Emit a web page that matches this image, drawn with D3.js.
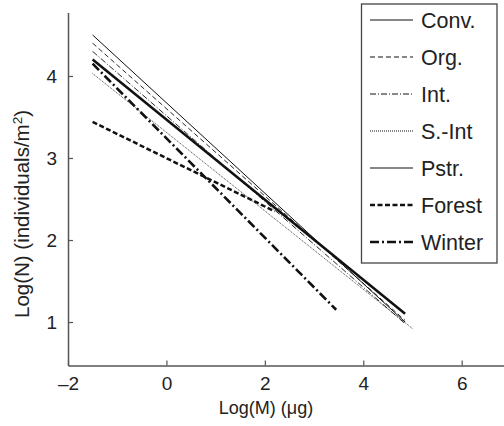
<!DOCTYPE html>
<html><head><meta charset="utf-8">
<script src="https://cdn.jsdelivr.net/npm/d3@7"></script>
<style>body{margin:0;background:#fff}svg{display:block}text{font-family:"Liberation Sans",Arial,sans-serif;fill:#222}</style>
</head><body>
<svg id="c" width="504" height="426"></svg>
<script>
const seriesNames = ["Conv.","Org.","Int.","S.-Int","Pstr.","Forest","Winter"];
const xStart = [-1.5,-1.5,-1.5,-1.5,-1.5,-1.5,-1.5];
const yStart = [4.50,4.40,4.30,4.03,4.20,3.44,4.15];
const xEnd   = [4.85,4.85,4.85,5.0,4.85,2.2,3.45];
const yEnd   = [1.00,1.02,0.98,0.92,1.10,2.35,1.15];
const xTicks = [-2,0,2,4,6];
const yTicks = [1,2,3,4];

const styles = [
  {w:1, dash:null},
  {w:0.9, dash:"5,3"},
  {w:0.9, dash:"6,2,1,2"},
  {w:0.8, dash:"1,1"},
  {w:2.5, dash:null},
  {w:2.5, dash:"5,2.5"},
  {w:2.6, dash:"9,3,2,3"}
];

const svg = d3.select("#c");
const x = d3.scaleLinear().domain([-2,6.86]).range([68,504]);
const y = d3.scaleLinear().domain([0.47,4.774]).range([365.5,12.5]);

const gx = svg.append("g").attr("transform","translate(0,365.5)")
  .call(d3.axisBottom(x).tickValues(xTicks).tickSizeInner(-5).tickSizeOuter(0).tickPadding(9)
  .tickFormat(d=> d<0 ? "\u2013"+Math.abs(d) : String(d)));
const gy = svg.append("g").attr("transform","translate(68,0)")
  .call(d3.axisLeft(y).tickValues(yTicks).tickSizeInner(-5).tickSizeOuter(0).tickPadding(11)
  .tickFormat(d3.format("d")));
[gx,gy].forEach(g=>{
  g.select(".domain").attr("stroke","#555").attr("stroke-width",1.5);
  g.selectAll(".tick line").attr("stroke","#555").attr("stroke-width",1.2);
  g.selectAll(".tick text").attr("font-size",19).attr("font-family","Liberation Sans, Arial, sans-serif").attr("fill","#222");
});
gx.selectAll(".tick text").attr("dy","0.8em");

svg.append("text").attr("x",266).attr("y",414).attr("text-anchor","middle").attr("font-size",18)
  .text("Log(M) (\u03bcg)");
const yl = svg.append("text").attr("transform","translate(29,214) rotate(-90)").attr("text-anchor","middle").attr("font-size",20.5);
yl.append("tspan").text("Log(N) (individuals/m");
yl.append("tspan").attr("font-size",13.5).attr("dy",-7).text("2");
yl.append("tspan").attr("dy",7).text(")");

const line = d3.line().x(d=>x(d[0])).y(d=>y(d[1]));
const order = [3,2,1,0,5,6,4];
order.forEach(i=>{
  svg.append("path").attr("d", line([[xStart[i],yStart[i]],[xEnd[i],yEnd[i]]]))
    .attr("fill","none").attr("stroke","#111").attr("stroke-width",styles[i].w)
    .attr("stroke-dasharray",styles[i].dash);
});

// legend
const lg = svg.append("g");
lg.append("rect").attr("x",361.5).attr("y",4).attr("width",135.5).attr("height",259)
  .attr("fill","#fff").attr("stroke","#444").attr("stroke-width",1.3);
seriesNames.forEach((n,i)=>{
  const yy = 20 + i*37;
  lg.append("line").attr("x1",370).attr("x2",413).attr("y1",yy).attr("y2",yy)
    .attr("stroke","#111").attr("stroke-width",i>=5?2.4:1.1).attr("stroke-dasharray",styles[i].dash);
  lg.append("text").attr("x",421).attr("y",yy).attr("dy","0.36em").attr("font-size",21.5).text(n);
});
</script>
</body></html>
